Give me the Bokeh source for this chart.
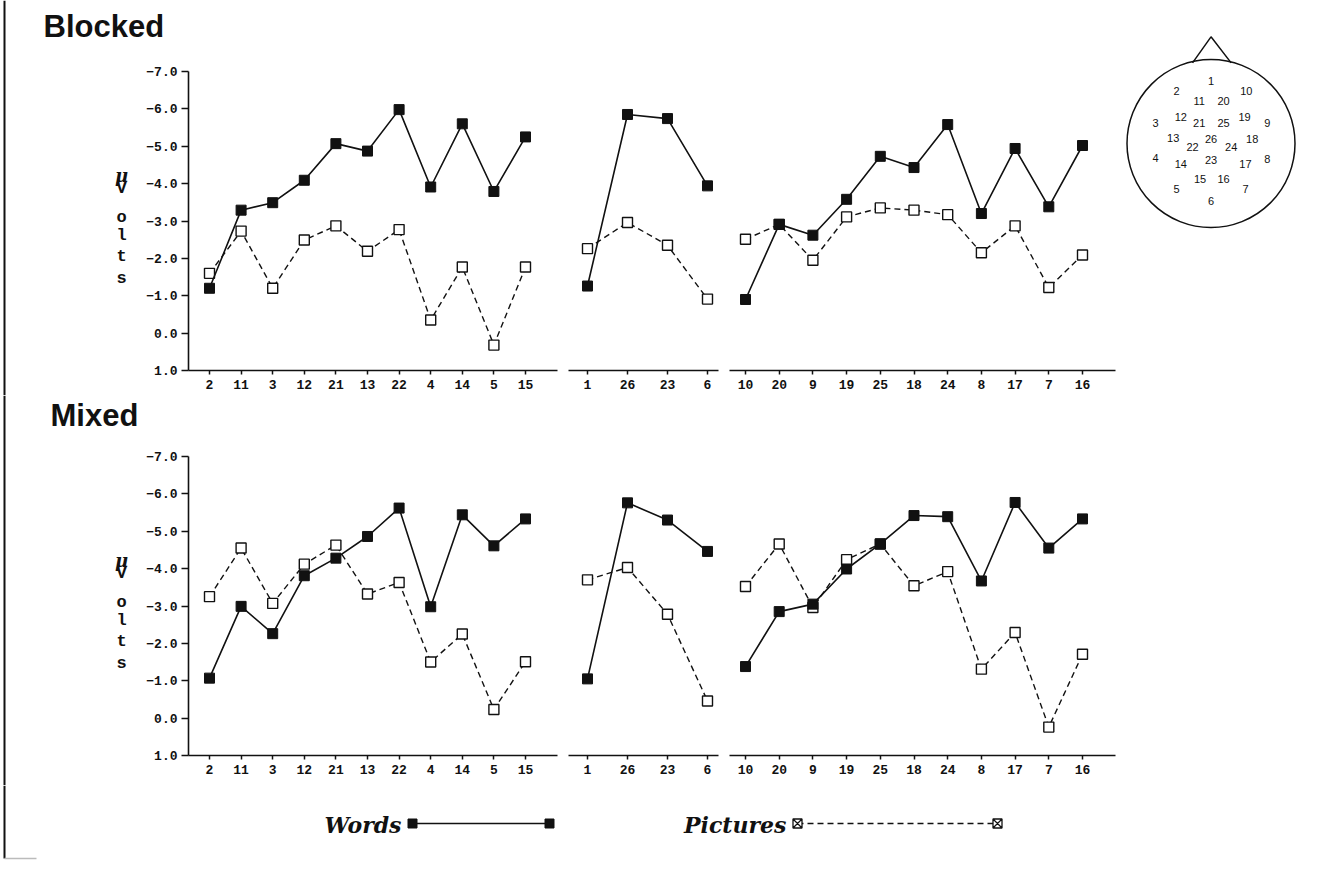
from bokeh.plotting import figure
from bokeh.layouts import column
from bokeh.models import Range1d, LinearAxis, FixedTicker
from bokeh.embed import file_html
from bokeh.resources import INLINE
from bokeh.core.properties import value

# ---------------- data ----------------
left_sites = ["2", "11", "3", "12", "21", "13", "22", "4", "14", "5", "15"]
mid_sites = ["1", "26", "23", "6"]
right_sites = ["10", "20", "9", "19", "25", "18", "24", "8", "17", "7", "16"]

blocked_words_left = [-1.20, -3.29, -3.49, -4.09, -5.07, -4.87, -5.98, -3.91, -5.60, -3.79, -5.25]
blocked_pict_left = [-1.60, -2.73, -1.20, -2.49, -2.87, -2.19, -2.77, -0.35, -1.77, 0.32, -1.77]
blocked_words_mid = [-1.26, -5.85, -5.74, -3.94]
blocked_pict_mid = [-2.26, -2.96, -2.35, -0.91]
blocked_words_right = [-0.90, -2.91, -2.62, -3.58, -4.73, -4.43, -5.58, -3.20, -4.94, -3.38, -5.02]
blocked_pict_right = [-2.51, -2.91, -1.95, -3.11, -3.35, -3.29, -3.17, -2.15, -2.87, -1.22, -2.09]

mixed_words_left = [-1.07, -2.99, -2.26, -3.81, -4.28, -4.86, -5.62, -2.98, -5.44, -4.61, -5.33]
mixed_pict_left = [-3.25, -4.55, -3.07, -4.12, -4.63, -3.32, -3.63, -1.50, -2.25, -0.23, -1.51]
mixed_words_mid = [-1.05, -5.76, -5.30, -4.46]
mixed_pict_mid = [-3.70, -4.03, -2.78, -0.46]
mixed_words_right = [-1.38, -2.85, -3.05, -3.99, -4.66, -5.42, -5.39, -3.67, -5.77, -4.55, -5.33]
mixed_pict_right = [-3.52, -4.66, -2.96, -4.24, -4.66, -3.54, -3.92, -1.31, -2.29, 0.24, -1.71]

y_ticks = [-7, -6, -5, -4, -3, -2, -1, 0, 1]
y_tick_labels = ["\u22127.0", "\u22126.0", "\u22125.0", "\u22124.0", "\u22123.0",
                 "\u22122.0", "\u22121.0", "0.0", "1.0"]
unit_letters = ["\u03bc", "V", "o", "l", "t", "s"]
legend_names = ["Words", "Pictures"]

# electrode map (head centre = 0,0 ; head radius = 1)
elec_labels = ["1", "2", "10", "11", "20", "12", "19", "3", "21", "25", "9", "13", "26",
               "18", "22", "24", "4", "23", "8", "14", "17", "15", "16", "5", "7", "6"]
elec_x = [0.0, -0.41, 0.42, -0.14, 0.15, -0.36, 0.40, -0.66, -0.14, 0.15, 0.67, -0.45, 0.0,
          0.49, -0.22, 0.24, -0.66, 0.0, 0.67, -0.36, 0.41, -0.13, 0.15, -0.41, 0.41, 0.0]
elec_y = [0.75, 0.62, 0.62, 0.51, 0.51, 0.32, 0.32, 0.24, 0.24, 0.24, 0.24, 0.06, 0.05,
          0.05, -0.04, -0.04, -0.17, -0.20, -0.18, -0.24, -0.24, -0.42, -0.42, -0.54, -0.54, -0.68]
nose_x = [-0.22, 0.0, 0.24]
nose_y = [0.96, 1.27, 0.96]

# ---------------- layout geometry (page pixels) ----------------
X_LEFT, X_RIGHT = 0, 1320
ROW1 = (0, 395)
ROW2 = (395, 785)
LEG = (785, 865)
INK = "#111111"
TICK_FONT = "Liberation Mono"
PX_PER_UV = 299 / 8.0
# panel: (page x of first tick, px per step, page x of axis start, page x of axis end)
GEOM = {"L": (209, 31.6, 188, 557), "M": (587, 40.0, 568, 718), "R": (745, 33.7, 729, 1115)}
HEAD_C = (1210.5, 143.0)
HEAD_R = 84.0
BORDER_X = 4


def idx(px, key):
    first, step, _, _ = GEOM[key]
    return 1 + (px - first) / step


def style_axis(ax):
    ax.minor_tick_line_color = None
    ax.major_tick_in = 0
    ax.major_tick_line_width = 1.5
    ax.axis_line_width = 1.6
    ax.axis_line_color = INK
    ax.major_tick_line_color = INK
    ax.major_label_text_font = TICK_FONT
    ax.major_label_text_font_style = "bold"
    ax.major_label_text_font_size = "13px"
    ax.major_label_text_color = INK


def make_row(rows, top7_px, title, title_px, title_mid, panels, with_head):
    y_top, y_bot = rows
    p = figure(frame_width=X_RIGHT - X_LEFT, frame_height=y_bot - y_top,
               x_range=Range1d(X_LEFT, X_RIGHT), y_range=Range1d(y_bot, y_top),
               x_axis_location=None, y_axis_location=None, min_border=0,
               toolbar_location=None, output_backend="svg")
    p.grid.visible = False
    p.outline_line_color = None
    p.background_fill_color = "white"
    p.border_fill_color = "white"

    def uv(py):
        return -7 + (py - top7_px) / PX_PER_UV

    p.extra_y_ranges = {"uv": Range1d(uv(y_bot), uv(y_top))}
    p.extra_x_ranges = {k: Range1d(idx(X_LEFT, k), idx(X_RIGHT, k)) for k in GEOM}

    for key, sites, words, pics in panels:
        xs = list(range(1, len(sites) + 1))
        _, _, a0, a1 = GEOM[key]
        xa = LinearAxis(x_range_name=key, y_range_name="uv", fixed_location=1.0,
                        bounds=(idx(a0, key), idx(a1, key)),
                        ticker=FixedTicker(ticks=xs),
                        major_label_overrides={i: s for i, s in zip(xs, sites)})
        style_axis(xa)
        xa.major_tick_out = 4
        xa.major_label_standoff = 5
        p.add_layout(xa, "below")
        p.line(xs, pics, x_range_name=key, y_range_name="uv",
               line_color=INK, line_width=1.4, line_dash="6 4")
        p.scatter(xs, pics, x_range_name=key, y_range_name="uv", marker="square",
                  size=10, fill_color="white", line_color=INK, line_width=1.4)
        p.line(xs, words, x_range_name=key, y_range_name="uv",
               line_color=INK, line_width=1.6)
        p.scatter(xs, words, x_range_name=key, y_range_name="uv", marker="square",
                  size=10, fill_color=INK, line_color=INK)

    ya = LinearAxis(x_range_name="L", y_range_name="uv",
                    fixed_location=idx(GEOM["L"][2], "L"), bounds=(-7, 1),
                    ticker=FixedTicker(ticks=y_ticks),
                    major_label_overrides={t: s for t, s in zip(y_ticks, y_tick_labels)})
    style_axis(ya)
    ya.major_tick_out = 7
    ya.major_label_standoff = 4
    p.add_layout(ya, "left")

    # row title and the stacked unit label (page-pixel coordinates)
    p.text(x=[title_px], y=[title_mid], text=[title], text_align="left",
           text_baseline="middle", text_font=value("Liberation Sans"),
           text_font_style="bold", text_font_size="31px", text_color=INK)
    letter_dy = [104, 117, 146, 164, 185, 207]
    for ch, dy in zip(unit_letters, letter_dy):
        is_mu = ch == "\u03bc"
        p.text(x=[121], y=[top7_px + dy], text=[ch], text_align="center",
               text_baseline="middle",
               text_font=value("DejaVu Serif" if is_mu else "Liberation Mono"),
               text_font_style="bold italic" if is_mu else "bold",
               text_font_size="18px" if is_mu else "17px", text_color=INK)

    # page border line at the far left
    p.line([BORDER_X, BORDER_X], [y_top, y_bot], line_color=INK, line_width=2)

    if with_head:
        cx, cy = HEAD_C
        p.extra_x_ranges["hx"] = Range1d((X_LEFT - cx) / HEAD_R, (X_RIGHT - cx) / HEAD_R)
        p.extra_y_ranges["hy"] = Range1d((cy - y_bot) / HEAD_R, (cy - y_top) / HEAD_R)
        p.circle(x=[0], y=[0], radius=1.0, x_range_name="hx", y_range_name="hy",
                 fill_color=None, line_color=INK, line_width=1.5)
        p.line(nose_x, nose_y, x_range_name="hx", y_range_name="hy",
               line_color=INK, line_width=1.5)
        p.text(x=elec_x, y=elec_y, text=elec_labels, x_range_name="hx", y_range_name="hy",
               text_align="center", text_baseline="middle",
               text_font=value("Liberation Sans"), text_font_size="11px", text_color=INK)
    return p


top = make_row(ROW1, 71, "Blocked", 43, 26,
               [("L", left_sites, blocked_words_left, blocked_pict_left),
                ("M", mid_sites, blocked_words_mid, blocked_pict_mid),
                ("R", right_sites, blocked_words_right, blocked_pict_right)], True)
bottom = make_row(ROW2, 456, "Mixed", 50, 415,
                  [("L", left_sites, mixed_words_left, mixed_pict_left),
                   ("M", mid_sites, mixed_words_mid, mixed_pict_mid),
                   ("R", right_sites, mixed_words_right, mixed_pict_right)], False)

# ---------------- legend ----------------
leg = figure(frame_width=X_RIGHT - X_LEFT, frame_height=LEG[1] - LEG[0],
             x_range=Range1d(X_LEFT, X_RIGHT), y_range=Range1d(LEG[1], LEG[0]),
             output_backend="svg", toolbar_location=None,
             x_axis_location=None, y_axis_location=None, min_border=0)
leg.grid.visible = False
leg.outline_line_color = None
leg.text(x=[401, 786], y=[824, 824], text=legend_names, text_align="right",
         text_baseline="middle", text_font=value("DejaVu Serif"),
         text_font_style="bold italic", text_font_size="22px", text_color=INK)
leg.line([412, 549], [823, 823], line_color=INK, line_width=1.6)
leg.scatter([412, 549], [823, 823], marker="square", size=9, fill_color=INK, line_color=INK)
leg.line([797, 997], [823, 823], line_color=INK, line_width=1.4, line_dash="6 4")
leg.scatter([797, 997], [823, 823], marker="square_x", size=9, fill_color="white",
            line_color=INK, line_width=1.3)
leg.line([BORDER_X, BORDER_X], [785, 858], line_color=INK, line_width=2)
leg.line([BORDER_X, 36], [858, 858], line_color="#bbbbbb", line_width=1.5)

layout = column(top, bottom, leg, spacing=0)
open("out.html", "w").write(file_html(layout, INLINE))
